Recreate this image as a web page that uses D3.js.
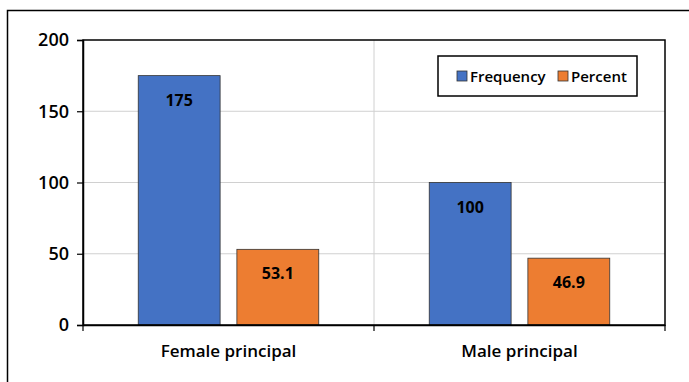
<!DOCTYPE html>
<html><head><meta charset="utf-8">
<script src="https://cdn.jsdelivr.net/npm/d3@7"></script>
<style>body{margin:0;background:#fff}svg{display:block}text{font-family:"Open Sans","Noto Sans",sans-serif;font-weight:600;fill:#000}</style>
</head><body><svg id="c" width="689" height="382"></svg>
<script>
const categories = ["Female principal", "Male principal"];
const seriesNames = ["Frequency", "Percent"];
const frequency = [175, 100];
const percent = [53.1, 46.9];
const yTicks = [0, 50, 100, 150, 200];
const colors = ["#4472C4", "#ED7D31"];

const svg = d3.select("#c");
svg.append("rect").attr("x", 7.5).attr("y", 10.5).attr("width", 720).attr("height", 420)
  .attr("fill", "#fff").attr("stroke", "#000").attr("stroke-width", 1.5);

const L = 83, R = 665, T = 40, B = 325;
const x0 = d3.scaleBand().domain(categories).range([L, R]).paddingInner(0).paddingOuter(0);
const x1 = d3.scaleBand().domain(seriesNames).range([0, x0.bandwidth()]).paddingInner(0.17).paddingOuter(0.56);
const y = d3.scaleLinear().domain([0, 200]).range([B, T]);

// gridlines
svg.append("g").selectAll("line").data(yTicks.filter(d => d > 0 && d < 200)).join("line")
  .attr("x1", L).attr("x2", R).attr("y1", d => y(d)).attr("y2", d => y(d))
  .attr("stroke", "#d0d0d0").attr("stroke-width", 1);
svg.append("line").attr("x1", x0(categories[1])).attr("x2", x0(categories[1]))
  .attr("y1", T).attr("y2", B).attr("stroke", "#d0d0d0");

const data = categories.map((c, i) => ({c, vals: [frequency[i], percent[i]]}));
const g = svg.append("g").selectAll("g").data(data).join("g")
  .attr("transform", d => `translate(${x0(d.c)},0)`);
g.selectAll("rect").data(d => d.vals.map((v, j) => ({s: seriesNames[j], v, j}))).join("rect")
  .attr("x", d => x1(d.s)).attr("width", x1.bandwidth())
  .attr("y", d => y(d.v)).attr("height", d => y(0) - y(d.v))
  .attr("fill", d => colors[d.j]).attr("stroke", "#333").attr("stroke-width", 0.8);
g.selectAll("text").data(d => d.vals.map((v, j) => ({s: seriesNames[j], v, j}))).join("text")
  .attr("x", d => x1(d.s) + x1.bandwidth() / 2).attr("y", d => y(d.v) + 30)
  .attr("text-anchor", "middle").style("font-size", "16px").style("font-weight", 700).text(d => d.v);

// plot border
svg.append("rect").attr("x", L).attr("y", T).attr("width", R - L).attr("height", B - T)
  .attr("fill", "none").attr("stroke", "#000").attr("stroke-width", 1.5);

// y axis
const ya = svg.append("g").attr("transform", `translate(${L},0)`)
  .call(d3.axisLeft(y).tickValues(yTicks).tickSize(6).tickPadding(8));
ya.select(".domain").attr("stroke", "#000").attr("stroke-width", 1.5);
ya.selectAll(".tick line").attr("stroke", "#000").attr("stroke-width", 1.2);
ya.selectAll("text").style("font-size", "18px").style("font-family", "'Open Sans','Noto Sans',sans-serif").style("font-weight", 600).attr("fill", "#000");

// x axis
const xa = svg.append("g").attr("transform", `translate(0,${B})`)
  .call(d3.axisBottom(x0).tickSize(0).tickPadding(20));
xa.select(".domain").attr("stroke", "#000").attr("stroke-width", 1.5);
xa.selectAll("text").style("font-size", "17px").style("font-family", "'Open Sans','Noto Sans',sans-serif").style("font-weight", 600).attr("fill", "#000");
svg.append("g").selectAll("line").data([L, x0(categories[1]), R]).join("line")
  .attr("x1", d => d).attr("x2", d => d).attr("y1", B).attr("y2", B + 6)
  .attr("stroke", "#000").attr("stroke-width", 1.2);

// legend
const lg = svg.append("g");
lg.append("rect").attr("x", 438).attr("y", 56).attr("width", 199).attr("height", 40)
  .attr("fill", "#fff").attr("stroke", "#000").attr("stroke-width", 1.5);
const lx = [457, 558];
seriesNames.forEach((s, i) => {
  lg.append("rect").attr("x", lx[i]).attr("y", 71).attr("width", 10).attr("height", 10)
    .attr("fill", colors[i]).attr("stroke", "#333").attr("stroke-width", 0.8);
  lg.append("text").attr("x", lx[i] + 13).attr("y", 81.5).style("font-size", "15px").text(s);
});
</script></body></html>
